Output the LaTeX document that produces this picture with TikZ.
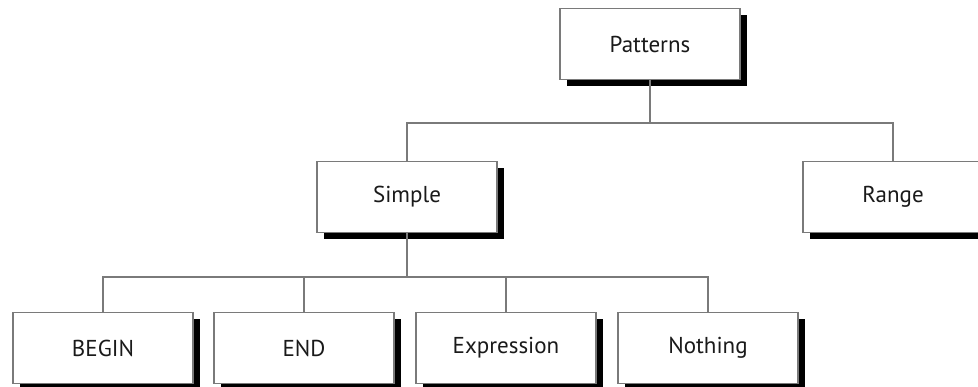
\documentclass[tikz,border=0pt]{standalone}
\usepackage{fontspec}
\setmainfont{PT Sans}
\usetikzlibrary{shadows}
\definecolor{edgegray}{HTML}{7A7A7A}
\definecolor{inkgray}{HTML}{1A1A1A}
\begin{document}
\begin{tikzpicture}[x=1pt,y=-1pt,
  box/.style={draw=edgegray, line width=1.1pt, fill=white,
    minimum width=180pt, minimum height=71pt, inner sep=0pt,
    text=inkgray, font=\fontsize{23}{26}\selectfont,
    drop shadow={shadow xshift=7pt, shadow yshift=-7pt, fill=black, opacity=1}},
  link/.style={draw=edgegray, line width=1.1pt}]
\useasboundingbox (0,0) rectangle (978,387);
\clip (0,0) rectangle (978,387);

% tree nodes
\node[box] (pat) at (650,44)  {Patterns};
\node[box] (sim) at (407,197) {Simple};
\node[box] (rng) at (893,197) {Range};
\node[box] (beg) at (103,348) {BEGIN};
\node[box] (end) at (304,348) {END};
\node[box] (exp) at (506,348) {Expression};
\node[box] (not) at (708,348) {Nothing};

% bus junctions
\coordinate (bustop) at (650,123);
\coordinate (buslow) at (407,277);

% connectors, top level
\draw[link] (pat.south) -- (bustop);
\draw[link] (sim.north) |- (bustop) -| (rng.north);

% connectors, second level
\draw[link] (sim.south) -- (buslow);
\draw[link] (beg.north) |- (buslow) -| (not.north);
\draw[link] (end.north) -- (end.north |- buslow);
\draw[link] (exp.north) -- (exp.north |- buslow);
\end{tikzpicture}
\end{document}
